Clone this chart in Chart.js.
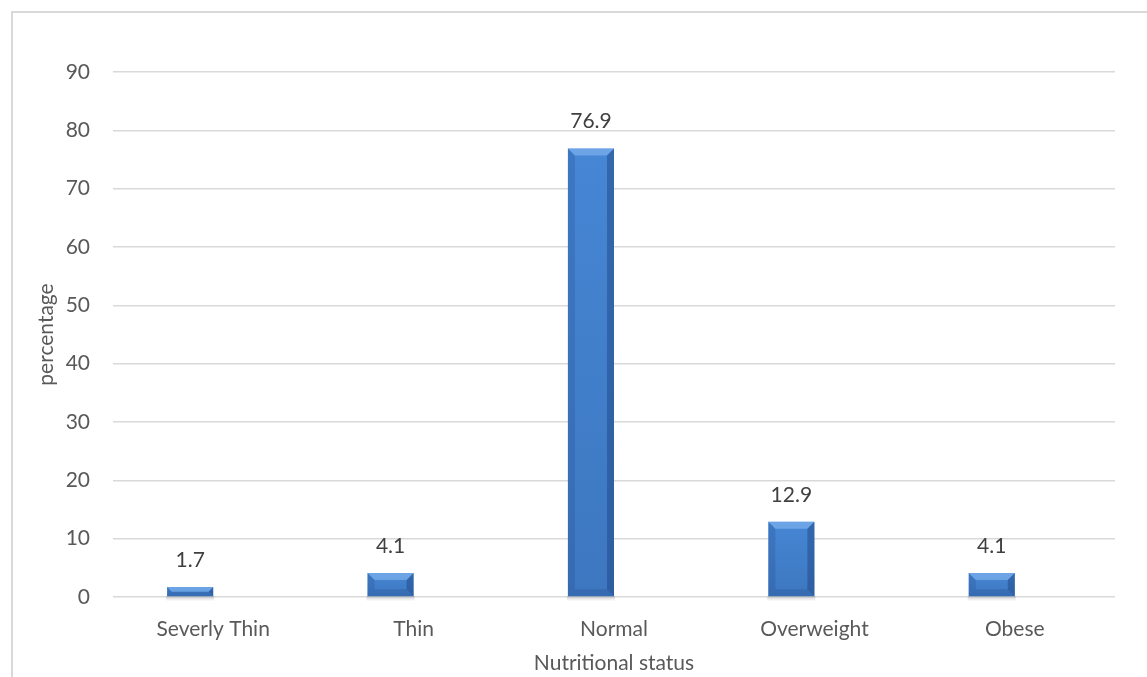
<!DOCTYPE html>
<html>
<head>
<meta charset="utf-8">
<script src="https://cdn.jsdelivr.net/npm/chart.js@4.4.1/dist/chart.umd.min.js"></script>
<style>
  html, body { margin: 0; padding: 0; background: #fff; }
  #wrap { position: relative; width: 1147px; height: 677px; overflow: hidden; }
  #frame { position: absolute; left: 11px; top: 11px; width: 1200px; height: 700px;
           border-top: 2px solid #d9d9d9; border-left: 2px solid #d9d9d9; }
  canvas { position: absolute; left: 0; top: 0; }
</style>
</head>
<body>
<div id="wrap">
  <div id="frame"></div>
  <canvas id="myChart"></canvas>
</div>
<script>
const categories = ['Severly Thin', 'Thin', 'Normal', 'Overweight', 'Obese'];
const percentages = [1.7, 4.1, 76.9, 12.9, 4.1];
// the source chart has an empty second series, which pushes each bar left of centre
const emptySeries = [null, null, null, null, null];
const yTicks = [0, 10, 20, 30, 40, 50, 60, 70, 80, 90];

const FONT = 'Lato, "Open Sans", sans-serif';

// bevel look + soft shadow, drawn using each bar element's geometry
const bevelPlugin = {
  id: 'bevel',
  beforeDatasetsDraw(chart) {
    const ctx = chart.ctx;
    chart.getDatasetMeta(0).data.forEach((bar) => {
      const { x, base, width } = bar.getProps(['x', 'base', 'width'], true);
      const g = ctx.createLinearGradient(0, base, 0, base + 5);
      g.addColorStop(0, 'rgba(120,120,120,0.35)');
      g.addColorStop(1, 'rgba(120,120,120,0)');
      ctx.save();
      ctx.fillStyle = g;
      ctx.fillRect(x - width / 2 - 1, base, width + 2, 5);
      ctx.restore();
    });
  },
  afterDatasetsDraw(chart) {
    const ctx = chart.ctx;
    const meta = chart.getDatasetMeta(0);
    meta.data.forEach((bar) => {
      const { x, y, base, width } = bar.getProps(['x', 'y', 'base', 'width'], true);
      const l = x - width / 2, r = x + width / 2, t = y, b = base;
      const s = Math.min(7, (b - t) / 2, width / 2);
      const poly = (pts, color) => {
        ctx.fillStyle = color;
        ctx.beginPath();
        ctx.moveTo(pts[0][0], pts[0][1]);
        pts.slice(1).forEach((p) => ctx.lineTo(p[0], p[1]));
        ctx.closePath();
        ctx.fill();
      };
      ctx.save();
      // darken the body gently towards the base
      const g = ctx.createLinearGradient(0, t, 0, b);
      g.addColorStop(0, 'rgba(20,50,100,0)');
      g.addColorStop(1, 'rgba(20,50,100,0.18)');
      ctx.fillStyle = g;
      ctx.fillRect(l, t, r - l, b - t);
      poly([[l, t], [r, t], [r - s, t + s], [l + s, t + s]], 'rgba(140,190,245,0.55)');
      poly([[l, t], [l + s, t + s], [l + s, b - s], [l, b]], 'rgba(30,70,130,0.22)');
      poly([[r, t], [r - s, t + s], [r - s, b - s], [r, b]], 'rgba(20,55,110,0.38)');
      poly([[l, b], [l + s, b - s], [r - s, b - s], [r, b]], 'rgba(20,55,110,0.18)');
      ctx.restore();
    });
  }
};

// value labels above the bars
const valueLabels = {
  id: 'valueLabels',
  afterDatasetsDraw(chart) {
    const ctx = chart.ctx;
    const meta = chart.getDatasetMeta(0);
    ctx.save();
    ctx.font = '21px ' + FONT;
    ctx.fillStyle = '#404040';
    ctx.textAlign = 'center';
    ctx.textBaseline = 'middle';
    meta.data.forEach((bar, i) => {
      ctx.fillText(String(percentages[i]), bar.x, bar.y - 27);
    });
    ctx.restore();
  }
};

const context = document.getElementById('myChart').getContext('2d');
const myChart = new Chart(context, {
  type: 'bar',
  data: {
    labels: categories,
    datasets: [{
      label: 'percentage',
      data: percentages,
      backgroundColor: '#4686d4',
      borderWidth: 0
    }, {
      label: '',
      data: emptySeries,
      backgroundColor: '#a5a5a5'
    }]
  },
  options: {
    responsive: true,
    maintainAspectRatio: false,
    animation: false,
    datasets: { bar: { categoryPercentage: 0.46, barPercentage: 1 } },
    layout: { padding: { top: 72, right: 32, bottom: 0, left: 0 } },
    plugins: {
      legend: { display: false },
      tooltip: { enabled: false }
    },
    scales: {
      x: {
        grid: { display: false },
        border: { display: false },
        ticks: { color: '#595959', font: { family: FONT, size: 21 }, padding: 12 },
        title: {
          display: true, text: 'Nutritional status', color: '#595959',
          font: { family: FONT, size: 21 }, padding: { top: 0, bottom: 1 }
        },
        afterFit: (scale) => { scale.height = 80; }
      },
      y: {
        min: 0, max: 90,
        afterBuildTicks: (scale) => { scale.ticks = yTicks.map((v) => ({ value: v })); },
        grid: { color: '#d9d9d9', lineWidth: 1.5, drawTicks: false },
        border: { display: false },
        ticks: { color: '#595959', font: { family: FONT, size: 21 }, padding: 23 },
        title: {
          display: true, text: 'percentage', color: '#595959',
          font: { family: FONT, size: 21 }, padding: { top: 34, bottom: 0 }
        },
        afterFit: (scale) => { scale.width = 113; }
      }
    }
  },
  plugins: [bevelPlugin, valueLabels]
});
</script>
</body>
</html>
